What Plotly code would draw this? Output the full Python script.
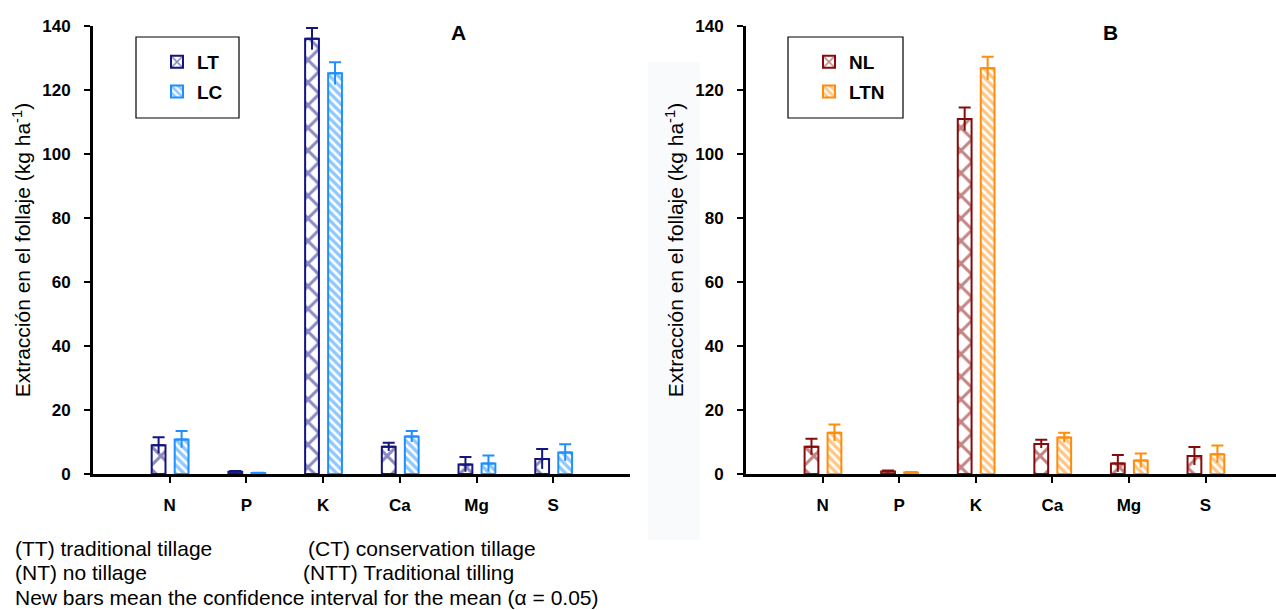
import plotly.graph_objects as go

W, H = 1276, 610

categories = ["N", "P", "K", "Ca", "Mg", "S"]

# Panel A
lt_values = [9.0, 0.7, 136.0, 8.5, 3.0, 4.7]
lt_err = [2.5, 0.2, 3.4, 1.3, 2.3, 3.1]
lc_values = [10.8, 0.3, 125.2, 11.7, 3.3, 6.7]
lc_err = [2.6, 0.1, 3.5, 1.7, 2.5, 2.6]

# Panel B
nl_values = [8.5, 0.8, 110.9, 9.4, 3.3, 5.6]
nl_err = [2.5, 0.3, 3.6, 1.3, 2.6, 2.8]
ltn_values = [12.9, 0.5, 126.8, 11.4, 4.2, 6.2]
ltn_err = [2.6, 0.1, 3.6, 1.5, 2.2, 2.7]

y_ticks = [0, 20, 40, 60, 80, 100, 120, 140]

footnotes_left = ["(TT) traditional tillage", "(NT) no tillage",
                  "New bars mean the confidence interval for the mean (α = 0.05)"]
footnotes_right = ["(CT) conservation tillage", "(NTT) Traditional tilling"]

C_LT = "#15157f"
C_LC = "#1f8fff"
C_NL = "#850c0c"
C_LTN = "#ff8c0a"

BOLD = "Liberation Sans Narrow, Arial Narrow, Liberation Sans, Arial"
REG = "Liberation Sans, Arial"

idx = list(range(len(categories)))
BW = 0.18
OFF1 = -0.235
OFF2 = 0.065

fig = go.Figure()


def add_pair(vals1, err1, name1, col1, vals2, err2, name2, col2, xa, ya, leg):
    for vals, err, name, col, off, shape, size, sol in [
        (vals1, err1, name1, col1, OFF1, "x", 16, 0.34),
        (vals2, err2, name2, col2, OFF2, "\\", 6, 0.55),
    ]:
        fig.add_trace(go.Bar(
            x=idx, y=vals, name=name, width=BW, offset=off,
            xaxis=xa, yaxis=ya, legend=leg, legendgroup=name,
            marker=dict(color="white", line=dict(color=col, width=2),
                        pattern=dict(shape=shape, size=size, solidity=sol,
                                     fgcolor=col, bgcolor="white", fillmode="overlay")),
            error_y=dict(type="data", symmetric=False, array=err,
                         arrayminus=[0] * len(err), color=col, thickness=2, width=6),
        ))
        fig.add_trace(go.Scatter(
            x=[i + off + BW / 2 for i in idx], y=vals, mode="markers",
            marker=dict(size=1, opacity=0), showlegend=False, hoverinfo="skip",
            xaxis=xa, yaxis=ya,
            error_y=dict(type="data", symmetric=False, array=[0] * len(err),
                         arrayminus=err, color=col, thickness=2, width=0),
        ))


add_pair(lt_values, lt_err, "LT", C_LT, lc_values, lc_err, "LC", C_LC, "x", "y", "legend")
add_pair(nl_values, nl_err, "NL", C_NL, ltn_values, ltn_err, "LTN", C_LTN, "x2", "y2", "legend2")

ydom = [1 - 474 / H, 1 - 26 / H]

xaxis_common = dict(
    tickvals=idx, ticktext=categories, showline=True, linewidth=3, linecolor="black",
    ticks="outside", ticklen=6, tickwidth=1.5, tickcolor="black", showgrid=False,
    zeroline=False, tickfont=dict(family=BOLD, size=17, color="black", weight="bold"),
    ticklabelstandoff=8, fixedrange=True, automargin=False,
)
yaxis_common = dict(
    range=[0, 140], tickvals=y_ticks, showline=True, linewidth=3, linecolor="black",
    ticks="outside", ticklen=6, tickwidth=2, tickcolor="black", showgrid=False,
    zeroline=False, tickfont=dict(family=BOLD, size=17, color="black", weight="bold"),
    ticklabelstandoff=10, domain=ydom, automargin=False,
    title=dict(text="Extracción en el follaje (kg ha<sup>-1</sup>)",
               font=dict(family=REG, size=21, color="black"), standoff=6),
)

legend_common = dict(
    font=dict(family=BOLD, size=19, color="black", weight="bold"),
    bgcolor="rgba(0,0,0,0)", borderwidth=0, xanchor="left", yanchor="top",
    traceorder="grouped", tracegroupgap=2, itemwidth=30,
)

fig.update_layout(
    width=W, height=H, margin=dict(l=0, r=0, t=0, b=0, pad=0, autoexpand=False),
    paper_bgcolor="white", plot_bgcolor="white", showlegend=True,
    barmode="overlay",
    xaxis=dict(domain=[93 / W, 630 / W], range=[-1, 6], anchor="y", **xaxis_common),
    yaxis=dict(anchor="x", **yaxis_common),
    xaxis2=dict(domain=[746 / W, 1.0], range=[-1, 5.92], anchor="y2", **xaxis_common),
    yaxis2=dict(anchor="x2", **yaxis_common),
    legend=dict(x=157 / W, y=1 - 43 / H, **legend_common),
    legend2=dict(x=809 / W, y=1 - 43 / H, **legend_common),
)

# legend boxes
for x0, x1 in [(136, 239), (788, 903)]:
    fig.add_shape(type="rect", xref="paper", yref="paper",
                  x0=x0 / W, x1=x1 / W, y0=1 - 118 / H, y1=1 - 37 / H,
                  line=dict(color="black", width=1.2), fillcolor="rgba(0,0,0,0)")

# faint scan artifact between panels
fig.add_shape(type="rect", xref="paper", yref="paper",
              x0=648 / W, x1=700 / W, y0=1 - 540 / H, y1=1 - 62 / H,
              line=dict(width=0), fillcolor="#f9fafc", layer="below")

# panel letters
for txt, px in [("A", 458), ("B", 1110)]:
    fig.add_annotation(text=txt, xref="paper", yref="paper", x=px / W, y=1 - 33 / H,
                       showarrow=False, xanchor="center", yanchor="middle",
                       font=dict(family=REG, size=21, color="black", weight="bold"))

# footnotes
for i, t in enumerate(footnotes_left):
    fig.add_annotation(text=t, xref="paper", yref="paper", x=13 / W,
                       y=1 - (548 + 24.5 * i) / H, showarrow=False, xanchor="left",
                       yanchor="middle", font=dict(family=REG, size=21, color="black"))
for i, (t, px) in enumerate(zip(footnotes_right, [306, 301])):
    fig.add_annotation(text=t, xref="paper", yref="paper", x=px / W,
                       y=1 - (548 + 24.5 * i) / H, showarrow=False, xanchor="left",
                       yanchor="middle", font=dict(family=REG, size=21, color="black"))

fig.write_html("out.html", config={"displayModeBar": False},
               post_script="document.body.style.margin='0';")
